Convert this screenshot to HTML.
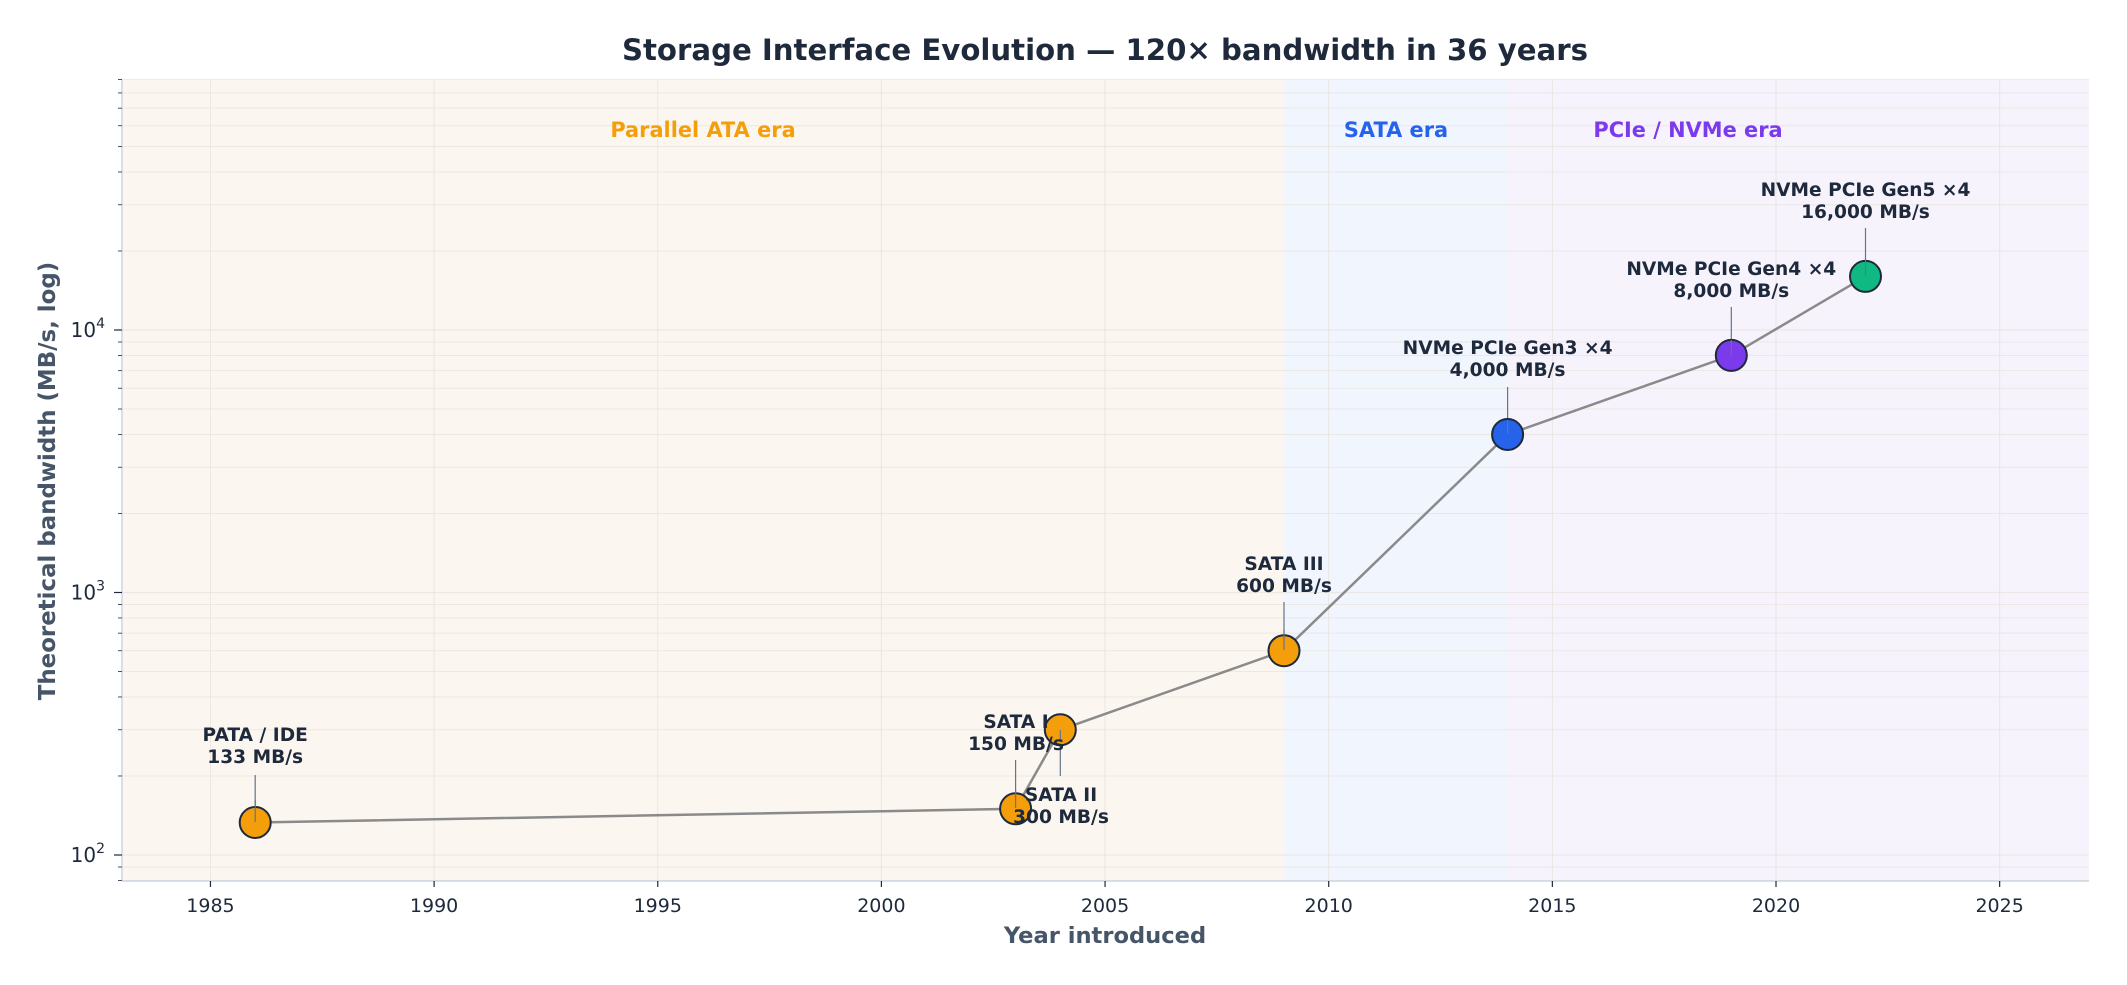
<!DOCTYPE html>
<html><head><meta charset="utf-8"><style>
html,body{margin:0;padding:0;background:#fff;}
svg{display:block;font-family:"DejaVu Sans","Liberation Sans",sans-serif;}
</style></head><body>
<svg id="s" width="2127" height="985" viewBox="0 0 2127 985" xmlns="http://www.w3.org/2000/svg">
<rect width="2127" height="985" fill="#fff"/>
<text x="1105" y="60" text-anchor="middle" font-size="29.2" font-weight="bold" fill="#1e293b">Storage Interface Evolution — 120× bandwidth in 36 years</text>
<rect x="122" y="80" width="1162" height="801" fill="#fbf7f0"/>
<rect x="1284" y="80" width="224" height="801" fill="#f1f5fd"/>
<rect x="1508" y="80" width="581" height="801" fill="#f6f3fd"/>
<g id="grid"></g>
<text x="703" y="137" text-anchor="middle" font-size="20.9" font-weight="bold" fill="#f59e0b">Parallel ATA era</text>
<text x="1396" y="137" text-anchor="middle" font-size="20.9" font-weight="bold" fill="#2563eb">SATA era</text>
<text x="1688" y="137" text-anchor="middle" font-size="20.9" font-weight="bold" fill="#7c3aed">PCIe / NVMe era</text>
<polyline points="255.2,822.5 1015.6,808.8 1060.3,729.8 1284,650.7 1507.6,434.5 1731.3,355.4 1865.5,276.4" fill="none" stroke="#8a8a8a" stroke-width="2.5"/>
<g stroke="#64748b" stroke-width="1.2">
<line x1="255.2" y1="775" x2="255.2" y2="822"/>
<line x1="1015.6" y1="760" x2="1015.6" y2="808"/>
<line x1="1060.3" y1="776" x2="1060.3" y2="730"/>
<line x1="1284" y1="602" x2="1284" y2="650"/>
<line x1="1507.6" y1="387" x2="1507.6" y2="434"/>
<line x1="1731.3" y1="307" x2="1731.3" y2="355"/>
<line x1="1865.5" y1="228" x2="1865.5" y2="276"/>
</g>
<g stroke="#1e293b" stroke-width="2">
<circle cx="255.2" cy="822.5" r="15.5" fill="#f59e0b"/>
<circle cx="1015.6" cy="808.8" r="15.5" fill="#f59e0b"/>
<circle cx="1060.3" cy="729.8" r="15.5" fill="#f59e0b"/>
<circle cx="1284" cy="650.7" r="15.5" fill="#f59e0b"/>
<circle cx="1507.6" cy="434.5" r="15.5" fill="#2563eb"/>
<circle cx="1731.3" cy="355.4" r="15.5" fill="#7c3aed"/>
<circle cx="1865.5" cy="276.4" r="15.5" fill="#10b981"/>
</g>
<g stroke="#64748b" stroke-width="1.2">
<line x1="255.2" y1="800" x2="255.2" y2="822"/>
<line x1="1015.6" y1="790" x2="1015.6" y2="808"/>
<line x1="1060.3" y1="740" x2="1060.3" y2="730"/>
<line x1="1284" y1="630" x2="1284" y2="650"/>
<line x1="1507.6" y1="420" x2="1507.6" y2="434"/>
<line x1="1731.3" y1="340" x2="1731.3" y2="355"/>
<line x1="1865.5" y1="260" x2="1865.5" y2="276"/>
</g>
<g font-size="18.6" font-weight="bold" fill="#1e293b" text-anchor="middle">
<text x="255.2" y="741">PATA / IDE</text><text x="255.2" y="763">133 MB/s</text>
<text x="1016" y="728">SATA I</text><text x="1016" y="750">150 MB/s</text>
<text x="1061" y="801">SATA II</text><text x="1061" y="823">300 MB/s</text>
<text x="1284" y="570">SATA III</text><text x="1284" y="592">600 MB/s</text>
<text x="1507.6" y="354">NVMe PCIe Gen3 ×4</text><text x="1507.6" y="376">4,000 MB/s</text>
<text x="1731.3" y="275">NVMe PCIe Gen4 ×4</text><text x="1731.3" y="297">8,000 MB/s</text>
<text x="1865.5" y="196">NVMe PCIe Gen5 ×4</text><text x="1865.5" y="218">16,000 MB/s</text>
</g>
<line x1="122" y1="80" x2="122" y2="881" stroke="#cbd5e1" stroke-width="1.5"/>
<line x1="122" y1="881" x2="2089" y2="881" stroke="#cbd5e1" stroke-width="1.5"/>
<g id="ticks"></g>
<text x="1105" y="943" text-anchor="middle" font-size="22.6" font-weight="bold" fill="#475569">Year introduced</text>
<text transform="translate(55,481) rotate(-90)" text-anchor="middle" font-size="22.9" font-weight="bold" fill="#475569">Theoretical bandwidth (MB/s, log)</text>
</svg>
<script>
var NS="http://www.w3.org/2000/svg";
function el(p,t,a,txt){var e=document.createElementNS(NS,t);for(var k in a)e.setAttribute(k,a[k]);if(txt!=null)e.textContent=txt;document.getElementById(p).appendChild(e);return e;}
function X(y){return 121+(y-1983)*44.73;}
function Y(v){return 330-(Math.log10(v)-4)*262.5;}
for(var yr=1985;yr<=2025;yr+=5){var x=X(yr);
 el("grid","line",{x1:x,y1:80,x2:x,y2:881,stroke:"#e5e1d8","stroke-width":1,opacity:0.7});
 el("ticks","line",{x1:x,y1:881,x2:x,y2:887,stroke:"#1e293b","stroke-width":1.2});
 el("ticks","text",{x:x,y:912,"text-anchor":"middle","font-size":19,fill:"#1e293b"},String(yr));}
for(var d=1;d<=4;d++){for(var m=1;m<=9;m++){var v=m*Math.pow(10,d);if(v<80||v>90000)continue;var y=Y(v);
 el("grid","line",{x1:122,y1:y,x2:2089,y2:y,stroke:"#e8e3da","stroke-width":m==1?1.3:1,opacity:0.7});
 el("ticks","line",{x1:m==1?114:118,y1:y,x2:122,y2:y,stroke:"#1e293b","stroke-width":m==1?1.2:0.8});
 if(m==1){var t=el("ticks","text",{x:105,y:y+7,"text-anchor":"end","font-size":20,fill:"#1e293b"},"10");
  var s=document.createElementNS(NS,"tspan");s.setAttribute("dy","-9");s.setAttribute("font-size","14");s.textContent=String(d);t.appendChild(s);}
}}
</script>
</body></html>
